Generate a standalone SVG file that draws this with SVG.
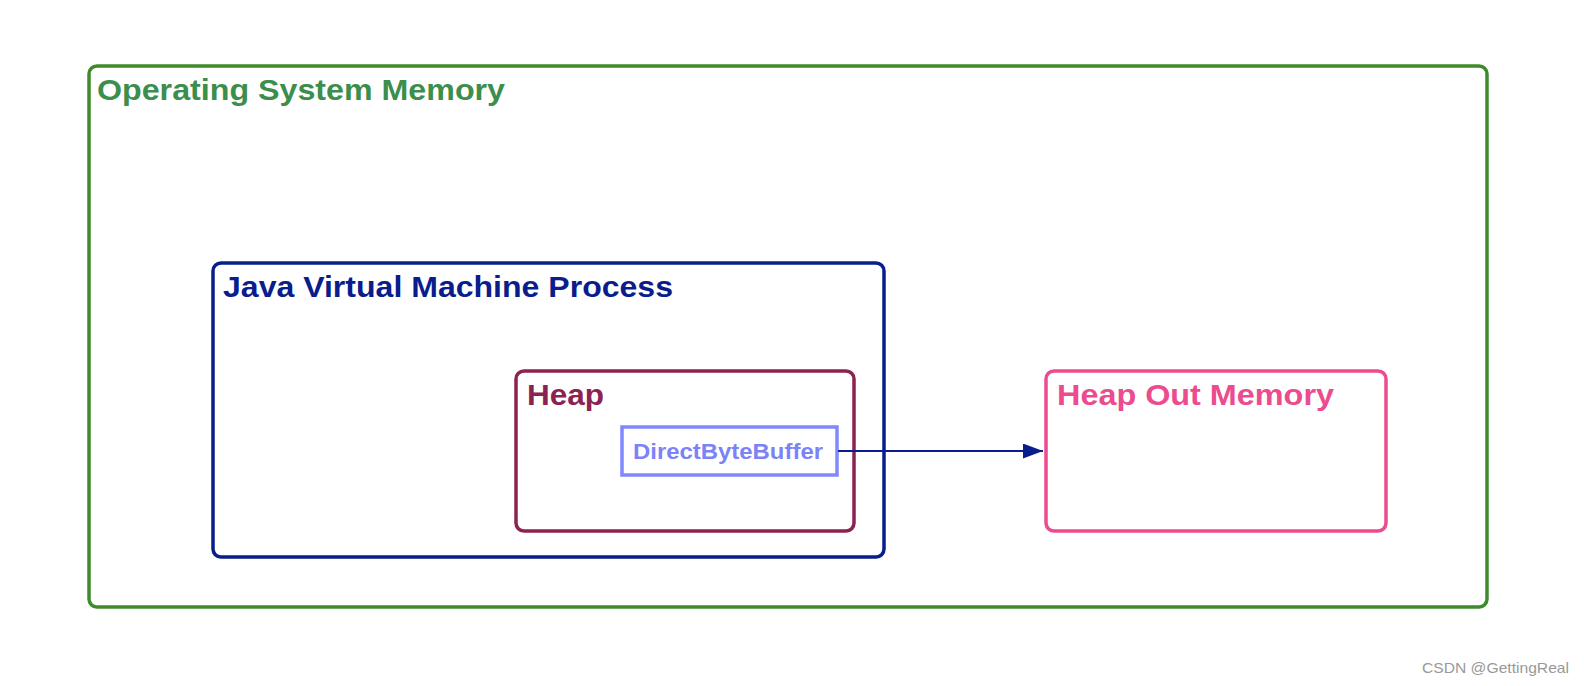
<svg xmlns="http://www.w3.org/2000/svg" width="1584" height="686" viewBox="0 0 1584 686">
<style>
.box{fill:none;stroke-width:3.5}
.t{font-family:"Liberation Sans",Arial,sans-serif;font-weight:bold;font-size:30px}
</style>
<defs>
<marker id="arr" markerWidth="20" markerHeight="15" refX="20" refY="7.5" orient="auto" markerUnits="userSpaceOnUse">
<path d="M0,0 L20,7.5 L0,15 Z" fill="#0a1d8c"/>
</marker>
</defs>
<rect width="1584" height="686" fill="#fff"/>
<g id="os">
<rect class="box" x="89" y="66" width="1398" height="541" rx="8" stroke="#3f8a2a"/>
<text class="t" x="97" y="100" fill="#3b8e4c" textLength="408" lengthAdjust="spacingAndGlyphs">Operating System Memory</text>
</g>
<g id="jvm">
<rect class="box" x="213" y="263" width="671" height="294" rx="8" stroke="#0a1d8c"/>
<text class="t" x="223" y="297" fill="#0a1d8c" textLength="450" lengthAdjust="spacingAndGlyphs">Java Virtual Machine Process</text>
</g>
<g id="heap">
<rect class="box" x="516" y="371" width="338" height="160" rx="8" stroke="#8b2252"/>
<text class="t" x="527" y="405" fill="#8b2252" textLength="77" lengthAdjust="spacingAndGlyphs">Heap</text>
</g>
<g id="dbb">
<rect class="box" x="622" y="427" width="215" height="48" stroke="#8087ff"/>
<text class="t" x="633" y="459" fill="#7c83f7" style="font-size:22px" textLength="190" lengthAdjust="spacingAndGlyphs">DirectByteBuffer</text>
</g>
<g id="offheap">
<rect class="box" x="1046" y="371" width="340" height="160" rx="8" stroke="#ec4b8f"/>
<text class="t" x="1057" y="405" fill="#ec4b8f" textLength="277" lengthAdjust="spacingAndGlyphs">Heap Out Memory</text>
</g>
<g id="connectors">
<line x1="838" y1="451" x2="1043" y2="451" stroke="#0a1d8c" stroke-width="2" marker-end="url(#arr)"/>
</g>
<text x="1569" y="673" text-anchor="end" font-family="'Liberation Sans',Arial,sans-serif" font-size="15" fill="#999" textLength="147" lengthAdjust="spacingAndGlyphs">CSDN @GettingReal</text>
</svg>
